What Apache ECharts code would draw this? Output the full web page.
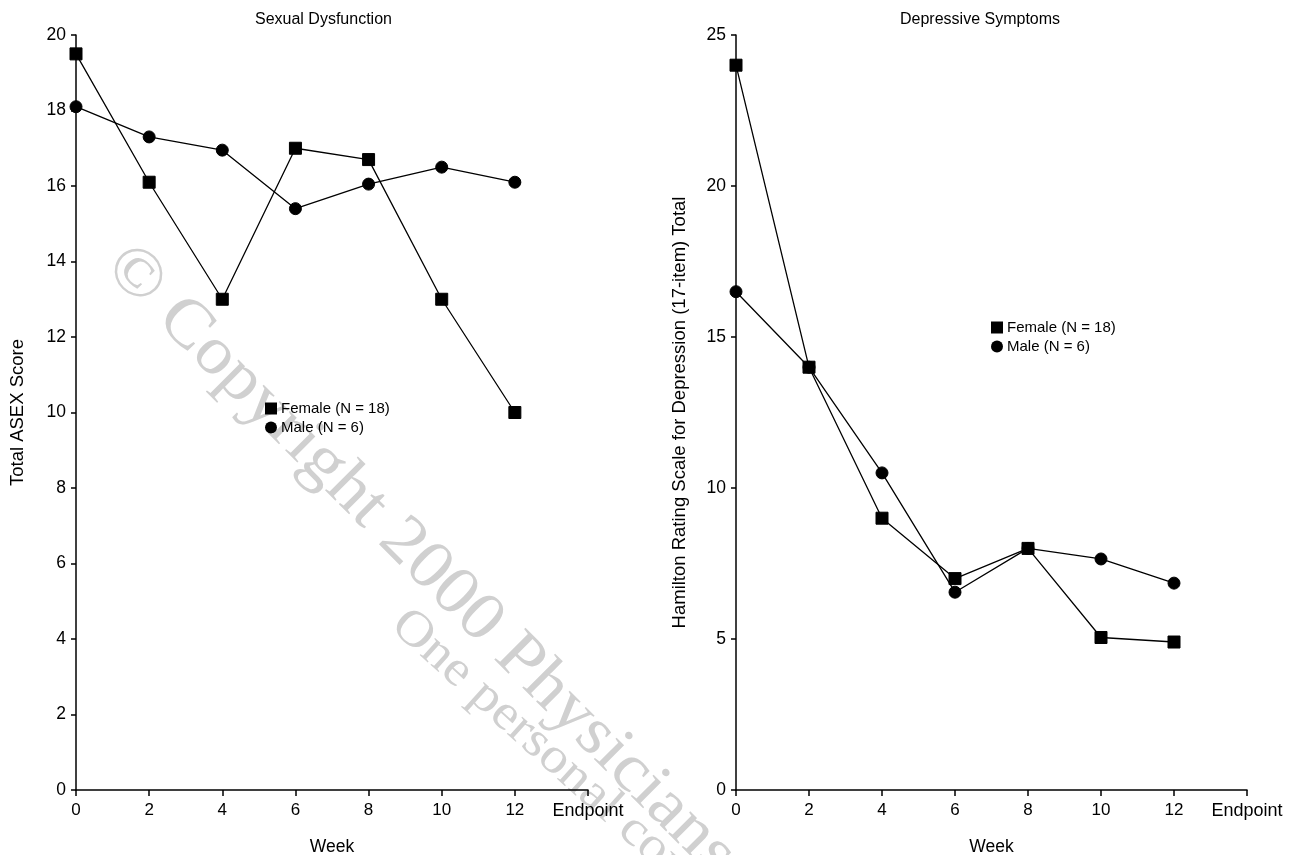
<!DOCTYPE html>
<html>
<head>
<meta charset="utf-8">
<script src="https://cdn.jsdelivr.net/npm/echarts@6/dist/echarts.min.js"></script>
<style>
html,body{margin:0;padding:0;background:#fff;}
#chart{width:1297px;height:855px;}
</style>
</head>
<body>
<div id="chart"></div>
<script>
// ---- data ----
var weeks = [0, 2, 4, 6, 8, 10, 12];
var xTickValues = [0, 2, 4, 6, 8, 10, 12, 14];
var xTickLabels = ['0', '2', '4', '6', '8', '10', '12', 'Endpoint'];
var seriesNames = ['Female (N = 18)', 'Male (N = 6)'];
var panelTitles = ['Sexual Dysfunction', 'Depressive Symptoms'];
var yTitles = ['Total ASEX Score', 'Hamilton Rating Scale for Depression (17-item) Total'];
var asexFemale = [19.5, 16.1, 13.0, 17.0, 16.7, 13.0, 10.0];
var asexMale   = [18.1, 17.3, 16.95, 15.4, 16.05, 16.5, 16.1];
var hamdFemale = [24.0, 14.0, 9.0, 7.0, 8.0, 5.05, 4.9];
var hamdMale   = [16.5, 14.0, 10.5, 6.55, 8.0, 7.65, 6.85];

function pairs(vals) { return weeks.map(function (w, i) { return [w, vals[i]]; }); }

var FONT = '"Liberation Sans", Arial, Helvetica, sans-serif';
var chart = echarts.init(document.getElementById('chart'), null, {renderer: 'canvas'});

function xAxis(idx) {
  return {
    type: 'value', gridIndex: idx, min: 0, max: 14, interval: 2,
    name: 'Week', nameLocation: 'middle', nameGap: 48,
    nameTextStyle: {fontFamily: FONT, fontSize: 17.5, color: '#000'},
    axisLine: {show: true, onZero: false, lineStyle: {color: '#000', width: 1.5}},
    axisTick: {show: true, length: 6, lineStyle: {color: '#000', width: 1.5}},
    axisLabel: {
      fontFamily: FONT, fontSize: 17, color: '#000', margin: 12,
      formatter: function (v) {
        var k = xTickValues.indexOf(v);
        if (k < 0) return '';
        return v === 14 ? '{e|' + xTickLabels[k] + '}' : xTickLabels[k];
      },
      rich: {e: {fontFamily: FONT, fontSize: 18, color: '#000'}}
    },
    splitLine: {show: false}
  };
}
function yAxis(idx, max, interval, gap) {
  return {
    type: 'value', gridIndex: idx, min: 0, max: max, interval: interval,
    name: yTitles[idx], nameLocation: 'middle', nameGap: gap,
    nameTextStyle: {fontFamily: FONT, fontSize: 18.5, color: '#000'},
    axisLine: {show: true, lineStyle: {color: '#000', width: 1.5}},
    axisTick: {show: true, length: 5, lineStyle: {color: '#000', width: 1.5}},
    axisLabel: {fontFamily: FONT, fontSize: 17.5, color: '#000', margin: 10},
    splitLine: {show: false}
  };
}
function lineSeries(name, idx, vals, symbol, size) {
  return {
    name: name, type: 'line', xAxisIndex: idx, yAxisIndex: idx,
    data: pairs(vals), symbol: symbol, symbolSize: size,
    showAllSymbol: true,
    itemStyle: {color: '#000', borderColor: '#000'},
    lineStyle: {color: '#000', width: 1.3},
    emphasis: {disabled: true},
    animation: false, z: 3
  };
}
function legend(left, top) {
  return {
    orient: 'vertical', left: left, top: top, padding: 0,
    itemWidth: 12, itemHeight: 12, itemGap: 4,
    selectedMode: false,
    textStyle: {fontFamily: FONT, fontSize: 15, color: '#000', padding: [0, 0, 0, -1]},
    data: [
      {name: seriesNames[0], icon: 'rect'},
      {name: seriesNames[1], icon: 'circle'}
    ]
  };
}

var option = {
  backgroundColor: '#fff',
  animation: false,
  title: [
    {text: panelTitles[0], left: 250, top: 7, padding: 5, textStyle: {fontFamily: FONT, fontSize: 16, fontWeight: 'normal', color: '#000'}},
    {text: panelTitles[1], left: 895, top: 7, padding: 5, textStyle: {fontFamily: FONT, fontSize: 16, fontWeight: 'normal', color: '#000'}}
  ],
  grid: [
    {left: 76, top: 35, width: 512, height: 755, containLabel: false, outerBoundsMode: 'none'},
    {left: 736, top: 35, width: 511, height: 755, containLabel: false, outerBoundsMode: 'none'}
  ],
  xAxis: [xAxis(0), xAxis(1)],
  yAxis: [yAxis(0, 20, 2, 49), yAxis(1, 25, 5, 47)],
  legend: [legend(265, 401), legend(991, 320)],
  graphic: [
    {
      type: 'text', silent: true, z: -10, x: 116, y: 256, rotation: -Math.PI / 4,
      scaleX: 1.07,
      style: {text: '\u00A9 Copyright 2000 Physicians', fill: '#d0d0d0',
              font: 'normal 68px "Liberation Serif", "Times New Roman", serif',
              align: 'left', verticalAlign: 'middle'}
    },
    {
      type: 'text', silent: true, z: -10, x: 398, y: 618, rotation: -42 * Math.PI / 180,
      scaleX: 1.1,
      style: {text: 'One personal copy', fill: '#d0d0d0',
              font: 'normal 50px "Liberation Serif", "Times New Roman", serif',
              align: 'left', verticalAlign: 'middle'}
    }
  ],
  series: [
    lineSeries(seriesNames[0], 0, asexFemale, 'rect', 12),
    lineSeries(seriesNames[1], 0, asexMale, 'circle', 12),
    lineSeries(seriesNames[0], 1, hamdFemale, 'rect', 12),
    lineSeries(seriesNames[1], 1, hamdMale, 'circle', 12)
  ]
};
chart.setOption(option);
</script>
</body>
</html>
